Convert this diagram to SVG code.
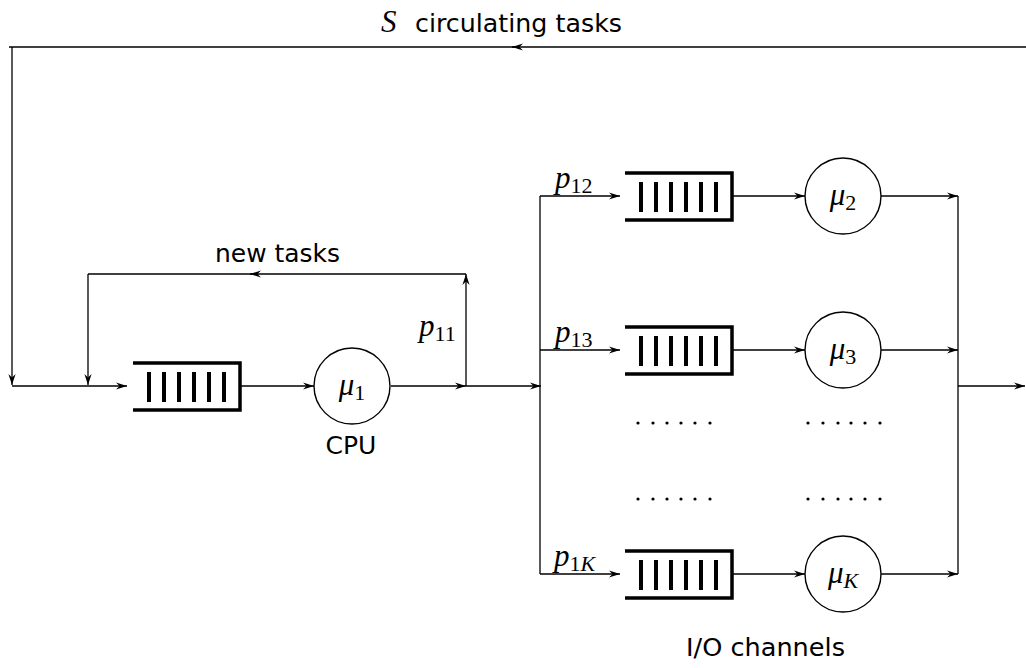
<svg xmlns="http://www.w3.org/2000/svg" width="1026" height="668" viewBox="0 0 1026 668">
<style>
.ln{stroke:#000;stroke-width:1.3;fill:none}
.ar{marker-end:url(#arr)}
.q{stroke:#000;stroke-width:3.5;fill:none}
.bar{fill:#000}
.srv{stroke:#000;stroke-width:1.4;fill:#fff}
.t{font-family:"DejaVu Sans","Liberation Sans",sans-serif;font-size:25px;fill:#000}
.m{font-family:"Liberation Serif",serif;font-style:italic;font-size:31px;fill:#000}
.sub{font-family:"Liberation Serif",serif;font-style:normal;font-size:22px}
.it{font-style:italic}
.dot{fill:#000}
</style>
<defs>
<marker id="arr" markerUnits="userSpaceOnUse" markerWidth="14" markerHeight="10" viewBox="-12 -5 14 10" refX="0" refY="0" orient="auto">
<path d="M0,0 L-11,-3.6 L-7.5,0 L-11,3.6 Z" fill="#000"/>
</marker>
<g id="queue">
<path d="M0,0 H107 V47 H0" class="q"/>
<rect x="14" y="9" width="4" height="30" class="bar"/>
<rect x="29" y="9" width="4" height="30" class="bar"/>
<rect x="44" y="9" width="4" height="30" class="bar"/>
<rect x="59" y="9" width="4" height="30" class="bar"/>
<rect x="74" y="9" width="4" height="30" class="bar"/>
<rect x="89" y="9" width="4" height="30" class="bar"/>
</g>
</defs>
<g id="connectors">
<path class="ln ar" d="M1026,47 L512,47"/>
<path class="ln" d="M514,47 L9,47"/>
<path class="ln ar" d="M12,47 L12,385"/>
<path class="ln ar" d="M12,386 L127,386"/>
<path class="ln ar" d="M88,274 L88,385"/>
<path class="ln ar" d="M466,274 L250,274"/>
<path class="ln" d="M252,274 L88,274"/>
<path class="ln ar" d="M241,386 L314,386"/>
<path class="ln ar" d="M391,386 L466,386"/>
<path class="ln ar" d="M466,386 L466,274"/>
<path class="ln ar" d="M466,386 L541,386"/>
<path class="ln" d="M540,196 L540,574"/>
<path class="ln ar" d="M540,196 L620,196"/>
<path class="ln ar" d="M540,350 L620,350"/>
<path class="ln ar" d="M540,574 L620,574"/>
<path class="ln ar" d="M732,196 L805,196"/>
<path class="ln ar" d="M732,350 L805,350"/>
<path class="ln ar" d="M732,574 L805,574"/>
<path class="ln ar" d="M881,196 L958,196"/>
<path class="ln ar" d="M881,350 L958,350"/>
<path class="ln ar" d="M881,574 L958,574"/>
<path class="ln" d="M958,196 L958,574"/>
<path class="ln ar" d="M958,386 L1025,386"/>
</g>
<g id="cpu-queue"><use href="#queue" x="133" y="363"/></g>
<g id="cpu">
<circle class="srv" cx="352" cy="386" r="38"/>
<text class="m" x="352" y="395" text-anchor="middle">μ<tspan class="sub" dy="5">1</tspan></text>
<text class="t" x="351" y="454" text-anchor="middle" font-size="26">CPU</text>
</g>
<g id="io-queue-2"><use href="#queue" x="625" y="173"/></g>
<g id="io-2">
<circle class="srv" cx="843" cy="196" r="38"/>
<text class="m" x="843" y="205" text-anchor="middle">μ<tspan class="sub" dy="5">2</tspan></text>
</g>
<g id="io-queue-3"><use href="#queue" x="625" y="327"/></g>
<g id="io-3">
<circle class="srv" cx="843" cy="350" r="38"/>
<text class="m" x="843" y="359" text-anchor="middle">μ<tspan class="sub" dy="5">3</tspan></text>
</g>
<g id="io-queue-K"><use href="#queue" x="625" y="551"/></g>
<g id="io-K">
<circle class="srv" cx="843" cy="574" r="38"/>
<text class="m" x="843" y="583" text-anchor="middle">μ<tspan class="sub it" dy="5">K</tspan></text>
</g>
<g id="dots">
<circle class="dot" cx="638" cy="423" r="1.6"/><circle class="dot" cx="653" cy="423" r="1.6"/><circle class="dot" cx="667" cy="423" r="1.6"/><circle class="dot" cx="681" cy="423" r="1.6"/><circle class="dot" cx="695" cy="423" r="1.6"/><circle class="dot" cx="710" cy="423" r="1.6"/>
<circle class="dot" cx="808" cy="423" r="1.6"/><circle class="dot" cx="823" cy="423" r="1.6"/><circle class="dot" cx="838" cy="423" r="1.6"/><circle class="dot" cx="851" cy="423" r="1.6"/><circle class="dot" cx="865" cy="423" r="1.6"/><circle class="dot" cx="880" cy="423" r="1.6"/>
<circle class="dot" cx="638" cy="499" r="1.6"/><circle class="dot" cx="653" cy="499" r="1.6"/><circle class="dot" cx="667" cy="499" r="1.6"/><circle class="dot" cx="681" cy="499" r="1.6"/><circle class="dot" cx="695" cy="499" r="1.6"/><circle class="dot" cx="710" cy="499" r="1.6"/>
<circle class="dot" cx="808" cy="499" r="1.6"/><circle class="dot" cx="823" cy="499" r="1.6"/><circle class="dot" cx="838" cy="499" r="1.6"/><circle class="dot" cx="851" cy="499" r="1.6"/><circle class="dot" cx="865" cy="499" r="1.6"/><circle class="dot" cx="880" cy="499" r="1.6"/>
</g>
<g id="labels">
<text class="m" x="381" y="32">S</text>
<text class="t" x="415" y="32" textLength="207" lengthAdjust="spacingAndGlyphs">circulating tasks</text>
<text class="t" x="215" y="262" textLength="125" lengthAdjust="spacingAndGlyphs">new tasks</text>
<text class="m" x="419" y="336">p<tspan class="sub" dy="5">11</tspan></text>
<text class="m" x="555" y="188">p<tspan class="sub" dy="5">12</tspan></text>
<text class="m" x="555" y="342">p<tspan class="sub" dy="5">13</tspan></text>
<text class="m" x="554" y="566">p<tspan class="sub" dy="5">1<tspan class="it">K</tspan></tspan></text>
<text class="t" x="686" y="656" font-size="26" textLength="159" lengthAdjust="spacingAndGlyphs">I/O channels</text>
</g>
</svg>
